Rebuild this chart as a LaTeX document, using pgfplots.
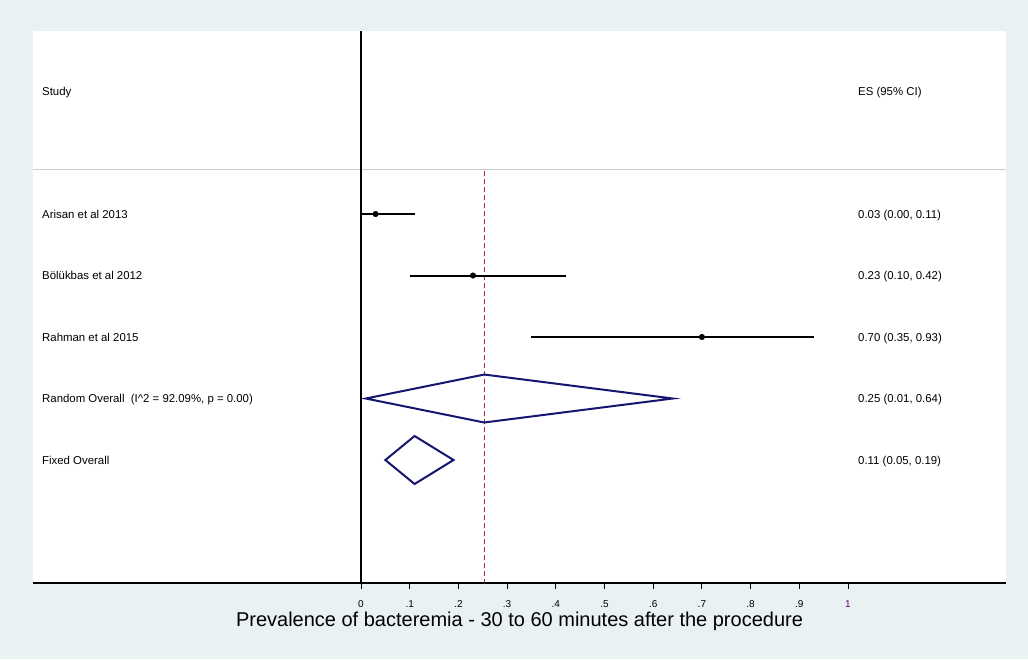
\documentclass[border=0pt]{standalone}
\usepackage{fontspec}
\setmainfont{Liberation Sans}
\usepackage{pgfplots}
\pgfplotsset{compat=1.18}
\definecolor{bgc}{RGB}{234,241,243}
\definecolor{dnavy}{RGB}{22,22,112}
\definecolor{dmaroon}{RGB}{165,45,55}
\definecolor{sepgray}{RGB}{205,205,205}
\definecolor{tickpurple}{RGB}{100,0,100}
\begin{document}
\begin{tikzpicture}[x=1pt,y=1pt]
\fill[bgc] (0,0) rectangle (1028,659);
\useasboundingbox (0,0) rectangle (1028,659);
\begin{axis}[
  at={(33pt,76pt)}, anchor=south west,
  width=973pt, height=552pt, scale only axis,
  xmin=-0.6735, xmax=1.3244, ymin=-1.976, ymax=7, y dir=reverse,
  axis background/.style={fill=white},
  axis x line*=bottom, axis y line=none,
  axis line style={black, line width=1.2pt},
  xtick={0,0.1,0.2,0.3,0.4,0.5,0.6,0.7,0.8,0.9,1},
  xticklabels={0,.1,.2,.3,.4,.5,.6,.7,.8,.9,{\color{tickpurple}1}},
  xtick align=outside, major tick length=6pt,
  tick style={black, line width=1pt},
  xticklabel style={font=\fontsize{10}{11}\selectfont, inner sep=0pt, yshift=-11pt},
  ytick=\empty,
  xlabel={Prevalence of bacteremia - 30 to 60 minutes after the procedure},
  xlabel style={font=\fontsize{20}{22}\selectfont, at={(axis description cs:0.5,0)}, anchor=base, yshift=-43pt},
  clip=false,
  every axis plot/.append style={line join=miter},
]
% separator and reference lines
\addplot[sepgray, line width=1pt] coordinates {(-0.6735,0.268) (1.3244,0.268)};
\addplot[black, line width=2pt] coordinates {(0,-1.976) (0,7)};
\addplot[dmaroon, line width=1pt, dash pattern=on 5pt off 3pt] coordinates {(0.253,0.30) (0.253,7)};
% study CIs
\addplot[black, line width=2pt] coordinates {(0.00,1) (0.11,1)};
\addplot[black, line width=2pt] coordinates {(0.10,2) (0.42,2)};
\addplot[black, line width=2pt] coordinates {(0.35,3) (0.93,3)};
\addplot[black, only marks, mark=*, mark size=2.8pt] coordinates {(0.03,1) (0.23,2) (0.70,3)};
% pooled diamonds
\addplot[dnavy, line width=2pt] coordinates {(0.01,4) (0.253,3.61) (0.64,4) (0.253,4.39)} -- cycle;
\addplot[dnavy, line width=2pt] coordinates {(0.05,5) (0.11,4.61) (0.19,5) (0.11,5.39)} -- cycle;
% text columns
\tikzset{lab/.style={anchor=base west, font=\fontsize{11.4}{13}\selectfont, inner sep=0pt, yshift=-4.1pt}}
\node[lab] at (axis cs:-0.655,-1) {Study};
\node[lab] at (axis cs:-0.655,1) {Arisan et al 2013};
\node[lab] at (axis cs:-0.655,2) {Bölükbas et al 2012};
\node[lab] at (axis cs:-0.655,3) {Rahman et al 2015};
\node[lab] at (axis cs:-0.655,4) {Random Overall\ \ (I\textasciicircum 2 = 92.09\%, p = 0.00)};
\node[lab] at (axis cs:-0.655,5) {Fixed Overall};
\node[lab] at (axis cs:1.0205,-1) {ES (95\% CI)};
\node[lab] at (axis cs:1.0205,1) {0.03 (0.00, 0.11)};
\node[lab] at (axis cs:1.0205,2) {0.23 (0.10, 0.42)};
\node[lab] at (axis cs:1.0205,3) {0.70 (0.35, 0.93)};
\node[lab] at (axis cs:1.0205,4) {0.25 (0.01, 0.64)};
\node[lab] at (axis cs:1.0205,5) {0.11 (0.05, 0.19)};
\end{axis}
\end{tikzpicture}
\end{document}
